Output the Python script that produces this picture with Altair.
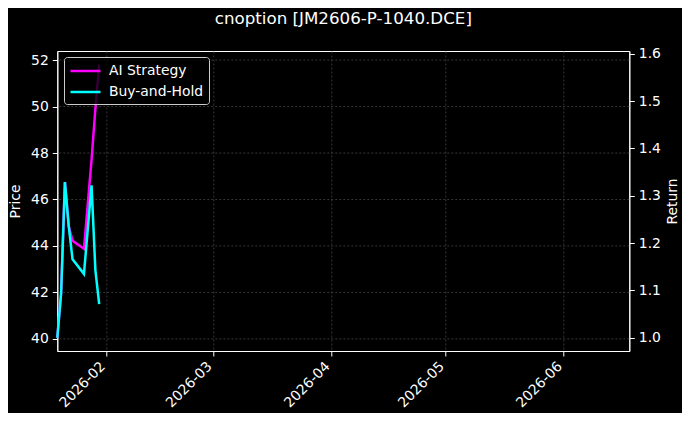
import pandas as pd
import altair as alt

# trading days shown in the picture
dates = ["2026-01-19", "2026-01-20", "2026-01-21", "2026-01-22", "2026-01-23",
         "2026-01-26", "2026-01-28", "2026-01-29", "2026-01-30"]
ai_strategy = [1.000, 1.094, 1.329, 1.236, 1.205, 1.188, 1.376, 1.484, 1.577]
buy_and_hold = [1.000, 1.094, 1.329, 1.236, 1.166, 1.135, 1.322, 1.143, 1.071]

series_names = ["AI Strategy", "Buy-and-Hold"]
series_colors = ["#ff00ff", "#00ffff"]

price_ticks = [40, 42, 44, 46, 48, 50, 52]
price_domain = [39.48, 52.39]
return_ticks = [1.0, 1.1, 1.2, 1.3, 1.4, 1.5, 1.6]
return_domain = [0.972, 1.606]

FONT = "DejaVu Sans"
GRID = "#444444"

df = pd.concat([
    pd.DataFrame({"date": dates, "ret": ai_strategy, "series": series_names[0]}),
    pd.DataFrame({"date": dates, "ret": buy_and_hold, "series": series_names[1]}),
])
price_df = pd.DataFrame({"price": price_ticks})

# left axis (Price) + its horizontal grid
price_layer = alt.Chart(price_df).mark_rule(
    color=GRID, strokeDash=[2, 2], strokeWidth=0.8
).encode(
    y=alt.Y("price:Q",
            scale=alt.Scale(domain=price_domain, nice=False, zero=False),
            axis=alt.Axis(orient="left", title="Price", values=price_ticks, format="d",
                          grid=False, tickSize=5, labelPadding=4, titlePadding=8))
)

lines = alt.Chart(df).mark_line(strokeWidth=2.5).encode(
    x=alt.X("date:T",
            scale=alt.Scale(type="utc", domain=[
                alt.DateTime(year=2026, month=1, date=19, utc=True),
                alt.DateTime(year=2026, month=6, date=18, hours=6, utc=True)]),
            axis=alt.Axis(title=None, format="%Y-%m", tickCount={"interval": "month", "step": 1},
                          labelAngle=-45, labelAlign="right", labelBaseline="top",
                          labelOffset=-9, tickSize=5, labelPadding=3,
                          grid=True, gridColor=GRID, gridDash=[2, 2], gridWidth=0.8)),
    y=alt.Y("ret:Q",
            scale=alt.Scale(domain=return_domain, nice=False, zero=False),
            axis=alt.Axis(orient="right", title="Return", values=return_ticks, format=".1f",
                          grid=False, tickSize=5, labelPadding=4, titlePadding=5,
                          titleAngle=270, titleBaseline="top")),
    color=alt.Color("series:N",
                    scale=alt.Scale(domain=series_names, range=series_colors),
                    legend=alt.Legend(title=None, orient="none", legendX=6.7, legendY=6,
                                      symbolType="M-1,0H3", symbolSize=225, symbolStrokeWidth=2.5,
                                      labelColor="white", labelFontSize=13.9, labelFont=FONT,
                                      labelOffset=22, rowPadding=5, padding=5,
                                      fillColor="rgba(0,0,0,0.8)", strokeColor="#cccccc",
                                      cornerRadius=3, zindex=1))
)

chart = alt.layer(price_layer, lines).resolve_scale(
    y="independent"
).properties(
    width=572,
    height=300,
    autosize=alt.AutoSizeParams(type="none"),
    padding={"left": 49.3, "top": 43, "right": 52.7, "bottom": 62},
    title=alt.TitleParams("cnoption [JM2606-P-1040.DCE]", fontSize=16.7, color="white",
                          font=FONT, fontWeight="normal", anchor="middle",
                          frame="group", offset=19),
).configure(
    background="black"
).configure_view(
    stroke="white", strokeWidth=1
).configure_axis(
    domainColor="white", tickColor="white", labelColor="white", titleColor="white",
    labelFont=FONT, titleFont=FONT, labelFontSize=13.9, titleFontSize=13.9,
    titleFontWeight="normal"
)

chart.save("out.html", embed_options={"renderer": "svg", "actions": False})
